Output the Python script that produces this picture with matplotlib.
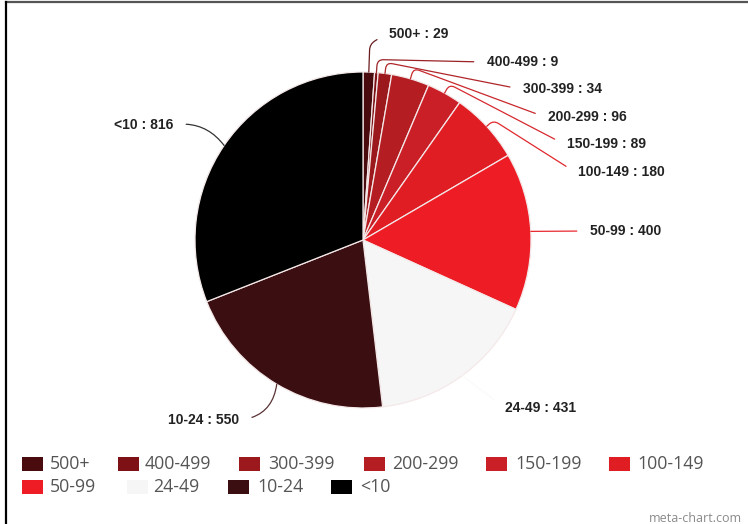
import numpy as np
import matplotlib
matplotlib.use('Agg')
import matplotlib.pyplot as plt
from matplotlib.patches import Rectangle

# ------------------------
# data
# ------------------------
labels = ['500+', '400-499', '300-399', '200-299', '150-199', '100-149',
          '50-99', '24-49', '10-24', '<10']
counts = [29, 9, 34, 96, 89, 180, 400, 431, 550, 816]
colors = ['#4a0b0f', '#7e1115', '#9b191d', '#b41e23', '#cb1f27', '#e11d24',
          '#ee1c25', '#f6f6f6', '#3b0e11', '#000000']
line_colors = ['#6a1c1e', '#9a2226', '#b0262a', '#c8282c', '#d62a30', '#e0282e',
               '#e8282e', '#fafafa', '#5a3234', '#333333']

# ------------------------
# layout (pixels, origin top-left)
# ------------------------
W, H = 748, 524
pie_cx, pie_cy, pie_r = 363, 240, 168

lab_pos = [(389, 34), (487, 62), (523, 89), (548, 117), (567, 144), (578, 172),
           (590, 231), (505, 408), (239, 420), (173, 125)]
stub = [28, 13, 11, 11, 10, 9, 0, 0, 0, 0]      # radial arm in points
side_rad = {8: 0.4, 9: -0.3}                     # curvature of left-side leaders

leg_rows = [(464, [22, 118, 239, 364, 486, 609]),
            (487, [22, 127, 228, 331])]
leg_text_dx = [28, 27, 29, 28, 29, 28, 28, 26, 29, 29]

fig = plt.figure(figsize=(W / 100, H / 100), dpi=100)
ax = fig.add_axes([0, 0, 1, 1])

wedges, _ = ax.pie(counts, colors=colors, startangle=90, counterclock=False,
                   center=(pie_cx, H - pie_cy), radius=pie_r,
                   wedgeprops=dict(edgecolor='#f4e8e8', linewidth=0.9))
ax.set_xlim(0, W)
ax.set_ylim(0, H)
ax.set_aspect('auto')
ax.axis('off')

# slice labels with leader lines
for i, w in enumerate(wedges):
    mid = (w.theta1 + w.theta2) / 2
    t = np.deg2rad(mid)
    ax_x = pie_cx + pie_r * np.cos(t)
    ax_y = (H - pie_cy) + pie_r * np.sin(t)
    tx, ty = lab_pos[i]
    text = '%s : %d' % (labels[i], counts[i])
    if i in side_rad:
        ha, relpos = 'right', (1, 0.5)
        cs = 'arc3,rad=%s' % side_rad[i]
    elif stub[i] > 0:
        ha, relpos = 'left', (0, 0.5)
        cs = 'arc,angleA=180,armA=3,angleB=%.1f,armB=%d,rad=6' % (mid, stub[i])
    else:
        ha, relpos = 'left', (0, 0.5)
        cs = 'arc3,rad=0'
    ax.annotate(text, xy=(ax_x, ax_y), xytext=(tx, H - ty),
                ha=ha, va='center', fontsize=10, fontweight='bold',
                family='Liberation Sans', color='#222222',
                arrowprops=dict(arrowstyle='-', color=line_colors[i], lw=0.9,
                                connectionstyle=cs, relpos=relpos,
                                shrinkA=7.5, shrinkB=0))

# legend, flowing in two rows
k = 0
for ly, xs in leg_rows:
    for lx in xs:
        ax.add_patch(Rectangle((lx, H - ly - 7), 21, 14, facecolor=colors[k],
                               edgecolor='none'))
        ax.text(lx + leg_text_dx[k], H - ly, labels[k], ha='left', va='center',
                fontsize=12.8, family='Open Sans', color='#555555')
        k += 1

# frame edges and watermark
ax.plot([6, W], [H - 1.5, H - 1.5], color='#555555', lw=1.6)
ax.plot([6.5, 6.5], [0, H - 2], color='#000000', lw=1.6)
ax.text(742, H - 518, 'meta-chart.com', ha='right', va='center',
        fontsize=9, family='Open Sans', color='#8a8a8a')

fig.savefig('out.png', dpi=100)
